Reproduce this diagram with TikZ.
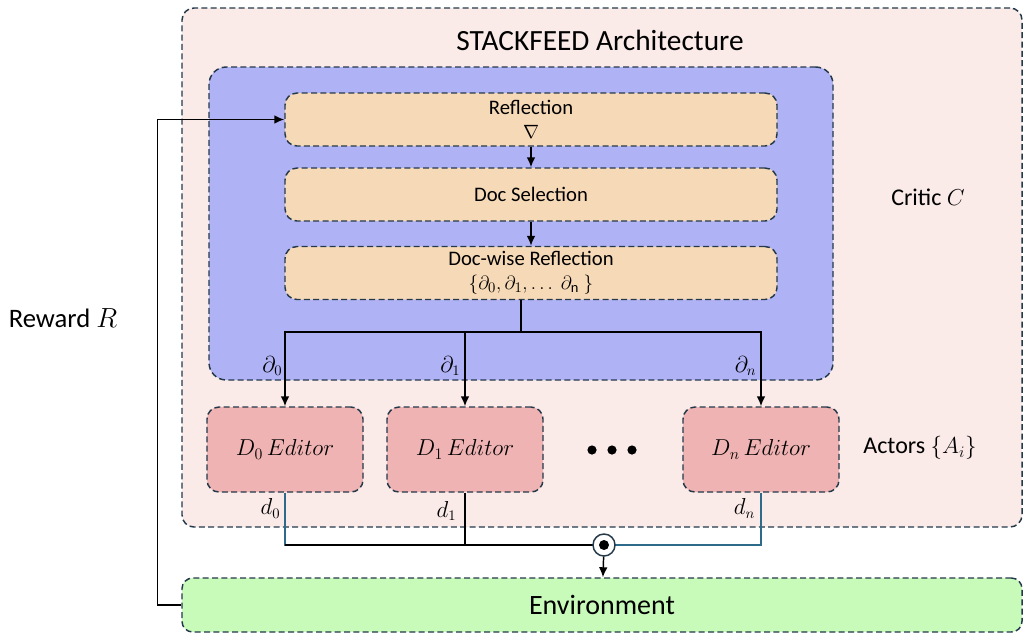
\documentclass[tikz,border=0pt]{standalone}
\usepackage{amsmath}
\usepackage{fontspec}
\setmainfont{Carlito}
\usetikzlibrary{arrows.meta,positioning}

\definecolor{edgeblue}{HTML}{23394A}
\definecolor{archpink}{HTML}{FAEAE8}
\definecolor{criticblue}{HTML}{B0B2F6}
\definecolor{stepsand}{HTML}{F6D9B6}
\definecolor{actorrose}{HTML}{F0B3B3}
\definecolor{envgreen}{HTML}{C8FABA}
\definecolor{linkteal}{HTML}{2E6A8A}

\tikzset{
    dbox/.style={draw=edgeblue, dash pattern=on 4.5pt off 2.5pt, line width=1.1pt, rounded corners=9pt},
    stepbox/.style={dbox, fill=stepsand, minimum width=369pt, minimum height=39.75pt, font=\fontsize{15.5}{17}\selectfont, align=center, inner sep=0pt},
    editorbox/.style={dbox, fill=actorrose, minimum width=117pt, minimum height=63.75pt, font=\fontsize{17}{20}\selectfont},
    flow/.style={-{Latex[length=7.5pt,width=6.5pt]}, line width=1.1pt},
    lbl/.style={font=\fontsize{16}{18}\selectfont}
}

\begin{document}
\begin{tikzpicture}[x=0.75pt,y=-0.75pt]

    \useasboundingbox (0,0) rectangle (1023,633);

    % Frames
    \node[dbox, fill=archpink, minimum width=630pt, minimum height=389.25pt] (arch) at (602,267.5) {};
    \node[dbox, fill=criticblue, minimum width=468pt, minimum height=234.75pt, rounded corners=13pt] (critic) at (521,223.5) {};
    \node[font=\fontsize{22}{26}\selectfont] (title) at (600,40) {STACKFEED Architecture};

    % Critic steps
    \node[stepbox] (refl) at (531,119.5) {Reflection\\[1pt]$\nabla$};
    \node[stepbox] (docsel) at (531,194.5) {Doc Selection};
    \node[stepbox] (docrefl) at (531,273) {Doc-wise Reflection\\[1pt]$\{\partial_0,\partial_1,\ldots\ \partial_{\mathrm{n}}\ \}$};

    \draw[flow] (refl) -- (docsel);
    \draw[flow] (docsel) -- (docrefl);

    \node[font=\fontsize{18}{21}\selectfont] (criticlbl) at (928,197) {Critic $C$};

    % Actors
    \node[editorbox] (ed0) at (285,449.5) {$D_0\,Editor$};
    \node[editorbox] (ed1) at (465,449.5) {$D_1\,Editor$};
    \node[editorbox] (edn) at (761,449.5) {$D_n\,Editor$};
    \node[font=\fontsize{18}{21}\selectfont] (actorslbl) at (920,448) {Actors $\{A_i\}$};

    \foreach \x in {592,612,632} {
        \fill (\x,450) circle (4.6);
    }

    % Split to editors
    \coordinate (split) at (521,332);
    \draw[line width=1.1pt] (split |- docrefl.south) -- (split);
    \draw[flow] (split) -| (ed0.north);
    \draw[flow] (split) -| (ed1.north);
    \draw[flow] (split) -| (edn.north);

    \node[lbl, left] (p0) at (287,366) {$\partial_0$};
    \node[lbl, left] (p1) at (465,366) {$\partial_1$};
    \node[lbl, left] (pn) at (761,366) {$\partial_n$};

    % Join to environment
    \node[dbox, fill=envgreen, minimum width=630pt, minimum height=40.5pt, rounded corners=8pt, font=\fontsize{21}{24}\selectfont] (env) at (602,605) {Environment};
    \coordinate (join) at (604,545);

    \draw[linkteal, line width=0.8pt] (ed0.south) |- (join);
    \draw[linkteal, line width=0.8pt] (edn.south) |- (join);
    \draw[line width=0.8pt] (ed1.south) -- (ed1.south |- join);
    \draw[line width=1.2pt] (ed0.south |- join) -- (join);

    \node[lbl, below left=1pt and 0pt] (d0) at (ed0.south) {$d_0$};
    \node[lbl, below left=3pt and 3pt] (d1) at (ed1.south) {$d_1$};
    \node[lbl, below left=1pt and 1pt] (dn) at (edn.south) {$d_n$};

    \node[circle, draw=edgeblue, line width=1.1pt, fill=white, minimum size=16.5pt, inner sep=0pt] (odot) at (join) {};
    \fill (odot.center) circle (5);
    \draw[flow] (odot) -- (env);

    % Reward
    \draw[flow] (env.west) -- ++(-24,0) |- (refl.west);
    \node[font=\fontsize{20}{24}\selectfont] (reward) at (63,318) {Reward $R$};

\end{tikzpicture}
\end{document}
